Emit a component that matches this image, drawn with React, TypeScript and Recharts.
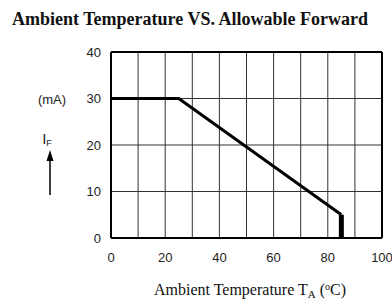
import React from 'react';
import { LineChart, Line, XAxis, YAxis, ReferenceLine } from 'recharts';

// derating curve: allowable forward current vs ambient temperature
const curve = [
  { t: 0, i: 30 },
  { t: 25, i: 30 },
  { t: 85, i: 5 },
];
const cutoff = [
  { t: 85, i: 5 },
  { t: 85, i: 0 },
];
const xTicks = [0, 20, 40, 60, 80, 100];
const yTicks = [0, 10, 20, 30, 40];
const xGrid = [10, 20, 30, 40, 50, 60, 70, 80, 90];
const yGrid = [10, 20, 30];

const sans = '"Liberation Sans", Arial, sans-serif';
const serif = '"Liberation Serif", "Times New Roman", serif';

export default function App() {
  return (
    <div style={{ position: 'absolute', left: 0, top: 0, width: 392, height: 300, background: '#fff' }}>
      <LineChart
        width={392}
        height={300}
        data={curve}
        margin={{ top: 52, right: 10, bottom: 32, left: 81 }}
      >
        {xGrid.map((v) => (
          <ReferenceLine key={`x${v}`} x={v} stroke="#333" strokeWidth={1} />
        ))}
        {yGrid.map((v) => (
          <ReferenceLine key={`y${v}`} y={v} stroke="#333" strokeWidth={1} />
        ))}
        <ReferenceLine y={40} stroke="#000" strokeWidth={2} />
        <ReferenceLine x={100} stroke="#000" strokeWidth={2} />
        <XAxis
          dataKey="t"
          type="number"
          domain={[0, 100]}
          ticks={xTicks}
          height={30}
          axisLine={{ stroke: '#000', strokeWidth: 2 }}
          tickLine={false}
          tickMargin={9}
          tick={{ fill: '#222', fontSize: 13, fontFamily: sans }}
        />
        <YAxis
          type="number"
          domain={[0, 40]}
          ticks={yTicks}
          width={30}
          axisLine={{ stroke: '#000', strokeWidth: 2 }}
          tickLine={false}
          tickMargin={4}
          tick={{ fill: '#222', fontSize: 13, fontFamily: sans }}
        />
        <Line dataKey="i" type="linear" stroke="#000" strokeWidth={3} dot={false} isAnimationActive={false} />
        <Line data={cutoff} dataKey="i" type="linear" stroke="#000" strokeWidth={5} dot={false} isAnimationActive={false} />
      </LineChart>
      <svg width={392} height={300} style={{ position: 'absolute', left: 0, top: 0, pointerEvents: 'none' }}>
        <text x={190} y={25} textAnchor="middle" fontFamily={serif} fontWeight="bold" fontSize={18} fill="#111">
          Ambient Temperature VS. Allowable Forward
        </text>
        <text x={52} y={104} textAnchor="middle" fontFamily={sans} fontSize={13} fill="#222">
          (mA)
        </text>
        <text x={47} y={144} textAnchor="middle" fontFamily={sans} fontSize={15} fill="#222">
          I<tspan fontSize={9} dy={2}>F</tspan>
        </text>
        <line x1={50} y1={158} x2={50} y2={195} stroke="#000" strokeWidth={1.5} />
        <polygon points="50,150 46.5,161 53.5,161" fill="#000" />
        <text x={250} y={295} textAnchor="middle" fontFamily={serif} fontSize={16} fill="#111">
          Ambient Temperature T<tspan fontSize={11} dy={3}>A</tspan>
          <tspan dy={-3}> (</tspan>
          <tspan fontSize={10} dy={-5}>o</tspan>
          <tspan dy={5}>C)</tspan>
        </text>
      </svg>
    </div>
  );
}
